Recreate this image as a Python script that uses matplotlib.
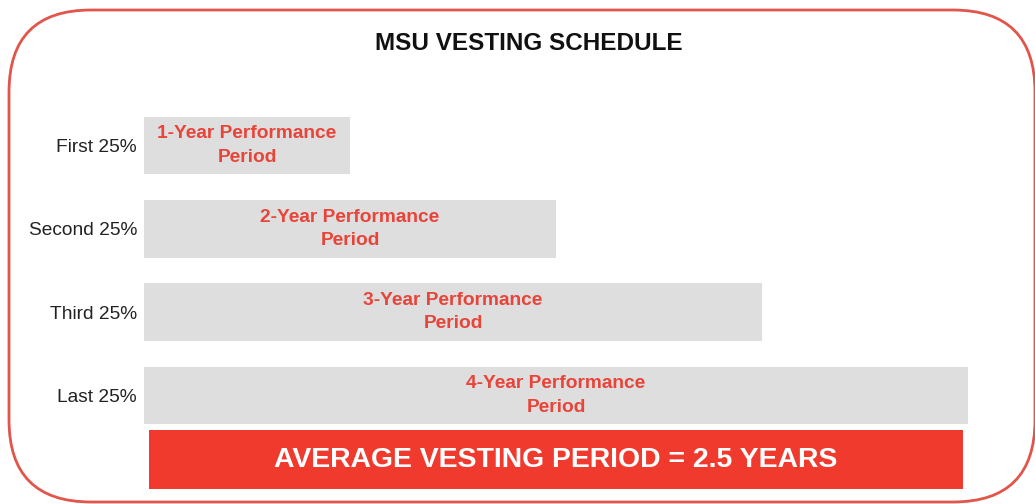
import matplotlib.pyplot as plt
from matplotlib.patches import FancyBboxPatch

categories = ['First 25%', 'Second 25%', 'Third 25%', 'Last 25%']
years = [1, 2, 3, 4]
bar_labels = ['1-Year Performance\nPeriod', '2-Year Performance\nPeriod',
              '3-Year Performance\nPeriod', '4-Year Performance\nPeriod']
title = 'MSU VESTING SCHEDULE'
summary = 'AVERAGE VESTING PERIOD = 2.5 YEARS'

plt.rcParams['font.family'] = ['Liberation Sans', 'DejaVu Sans']

fig = plt.figure(figsize=(10.35, 5.04), dpi=100)

# rounded red frame in pixel coordinates
bg = fig.add_axes([0, 0, 1, 1], zorder=0)
bg.set_xlim(0, 1035)
bg.set_ylim(504, 0)
bg.axis('off')
frame = FancyBboxPatch((9, 10), 1026, 492, boxstyle='round,pad=0,rounding_size=82',
                       facecolor='white', edgecolor='#e2554b', linewidth=2)
bg.add_patch(frame)

fig.text(529 / 1035, 1 - 44 / 504, title, ha='center', va='center',
         fontsize=17.5, fontweight='bold', color='#111111')

ax = fig.add_axes([144 / 1035, 1 - 495.4 / 504, 824 / 1035, (495.4 - 103.85) / 504], zorder=1)
ax.patch.set_alpha(0)
ypos = list(range(len(categories)))
ax.barh(ypos, years, height=0.69, color='#dedede')
for y, w, lab in zip(ypos, years, bar_labels):
    ax.text(w / 2, y, lab, ha='center', va='center', color='#e8443a',
            fontsize=13.8, fontweight='bold', linespacing=1.5)

# summary bar
sy = len(categories) - 1 + 0.77
ax.barh([sy], [max(years) - 0.048], left=0.024, height=0.71, color='#f03a2e')
ax.text(max(years) / 2, sy, summary, ha='center', va='center', color='white',
        fontsize=20.4, fontweight='bold')

ax.set_xlim(0, 4)
ax.set_ylim(4.2, -0.5)
ax.set_yticks(ypos)
ax.set_yticklabels(categories, fontsize=13.8, color='#222222')
ax.set_xticks([])
ax.tick_params(axis='y', length=0, pad=5)
for s in ax.spines.values():
    s.set_visible(False)

fig.savefig('out.png', dpi=100)
